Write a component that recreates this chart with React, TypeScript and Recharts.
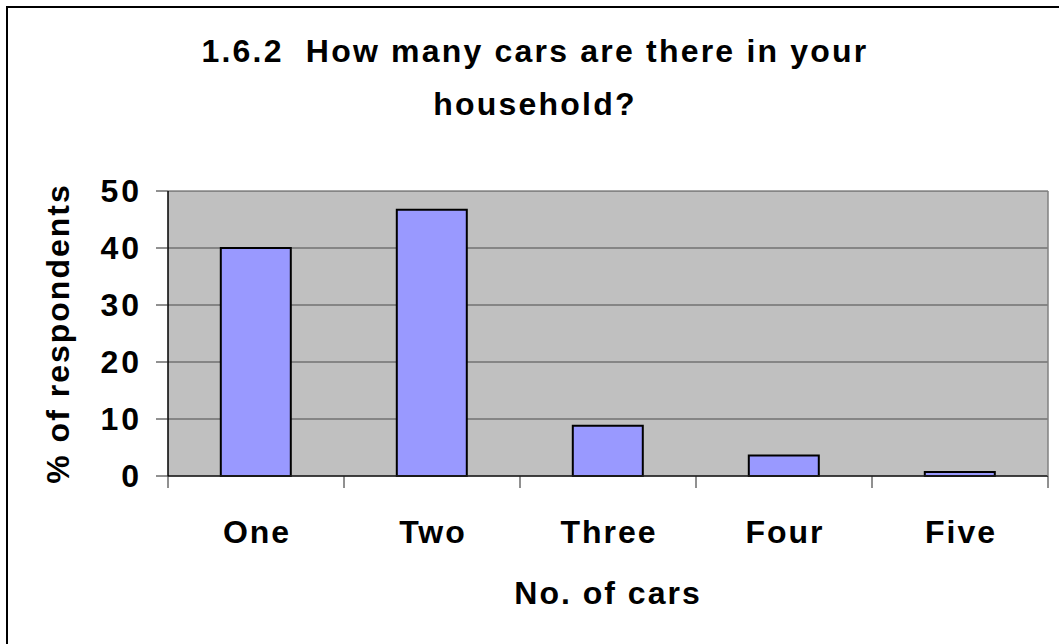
import React from 'react';
import { BarChart, Bar, XAxis, YAxis, CartesianGrid, Label } from 'recharts';

const categories = ['One', 'Two', 'Three', 'Four', 'Five'];
const respondents = [40, 46.7, 8.8, 3.6, 0.7];
const yTicks = [0, 10, 20, 30, 40, 50];

const data = categories.map((name, i) => ({ name, value: respondents[i] }));

const FONT = '"Liberation Sans", Arial, sans-serif';

const YTick = (props: any) => {
  const { x, y, payload } = props;
  return (
    <text x={x + 3} y={y} dy={11} textAnchor="end" fontFamily={FONT} fontWeight="bold" fontSize={32} letterSpacing={3} fill="#000">
      {payload.value}
    </text>
  );
};

// category label plus the Excel-style tick marks between categories
const XTick = (props: any) => {
  const { x, y, payload, index, visibleTicksCount } = props;
  const half = payload.offset || 0;
  const last = index === visibleTicksCount - 1;
  return (
    <g>
      <line x1={x - half} x2={x - half} y1={y} y2={y + 12} stroke="#222" />
      {last && (
        <>
          <line x1={x + half} x2={x + half} y1={y} y2={y + 12} stroke="#222" />
          {/* right edge of the plot frame */}
          <line x1={x + half} x2={x + half} y1={y} y2={191} stroke="#808080" strokeWidth={1.5} />
        </>
      )}
      <text x={x + 1} y={y + 67} textAnchor="middle" fontFamily={FONT} fontWeight="bold" fontSize={32} letterSpacing={2} fill="#000">
        {payload.value}
      </text>
    </g>
  );
};

const App = () => {
  return (
    <div style={{ position: 'absolute', left: 0, top: 0, width: 1059, height: 644, overflow: 'hidden', background: '#fff' }}>
      {/* outer frame, cut off at the right and bottom like the reference */}
      <div style={{ position: 'absolute', left: 6, top: 6, width: 1100, height: 700, border: '2px solid #000' }} />

      {/* Title */}
      <div
        style={{
          position: 'absolute',
          left: 10,
          top: 25,
          width: 1050,
          textAlign: 'center',
          fontFamily: FONT,
          fontWeight: 'bold',
          fontSize: 32,
          lineHeight: '53px',
          letterSpacing: 2.2,
          color: '#000',
        }}
      >
        1.6.2&nbsp; How many cars are there in your
        <br />
        household?
      </div>

      <div style={{ position: 'absolute', left: 0, top: 0 }}>
        <BarChart
          width={1059}
          height={644}
          data={data}
          margin={{ top: 191, right: 11, bottom: 108, left: 108 }}
          barCategoryGap="30%"
        >
          <CartesianGrid vertical={false} fill="#C0C0C0" fillOpacity={1} stroke="#4a4a4a" />
          <XAxis
            dataKey="name"
            height={60}
            tickSize={0}
            tickMargin={0}
            tickLine={false}
            axisLine={{ stroke: '#222', strokeWidth: 1.5 }}
            tick={<XTick />}
            interval={0}
          >
            <Label
              content={(p: any) => {
                const vb = p.viewBox;
                return (
                  <text
                    x={vb.x + vb.width / 2}
                    y={vb.y + 128}
                    textAnchor="middle"
                    fontFamily={FONT}
                    fontWeight="bold"
                    fontSize={32}
                    letterSpacing={2}
                    fill="#000"
                  >
                    No. of cars
                  </text>
                );
              }}
            />
          </XAxis>
          <YAxis
            width={60}
            domain={[0, 50]}
            ticks={yTicks}
            interval={0}
            tickSize={12}
            tickMargin={17}
            tickLine={{ stroke: '#222' }}
            axisLine={{ stroke: '#000', strokeWidth: 1.5 }}
            tick={<YTick />}
          >
            <Label
              content={(p: any) => {
                const vb = p.viewBox;
                const cx = vb.x - 39;
                const cy = vb.y + vb.height / 2;
                return (
                  <text
                    x={cx}
                    y={cy}
                    transform={`rotate(-90, ${cx}, ${cy})`}
                    textAnchor="middle"
                    fontFamily={FONT}
                    fontWeight="bold"
                    fontSize={32}
                    letterSpacing={2}
                    fill="#000"
                  >
                    % of respondents
                  </text>
                );
              }}
            />
          </YAxis>
          <Bar dataKey="value" fill="#9999FF" stroke="#000" strokeWidth={2} isAnimationActive={false} />
        </BarChart>
      </div>
    </div>
  );
};

export default App;
